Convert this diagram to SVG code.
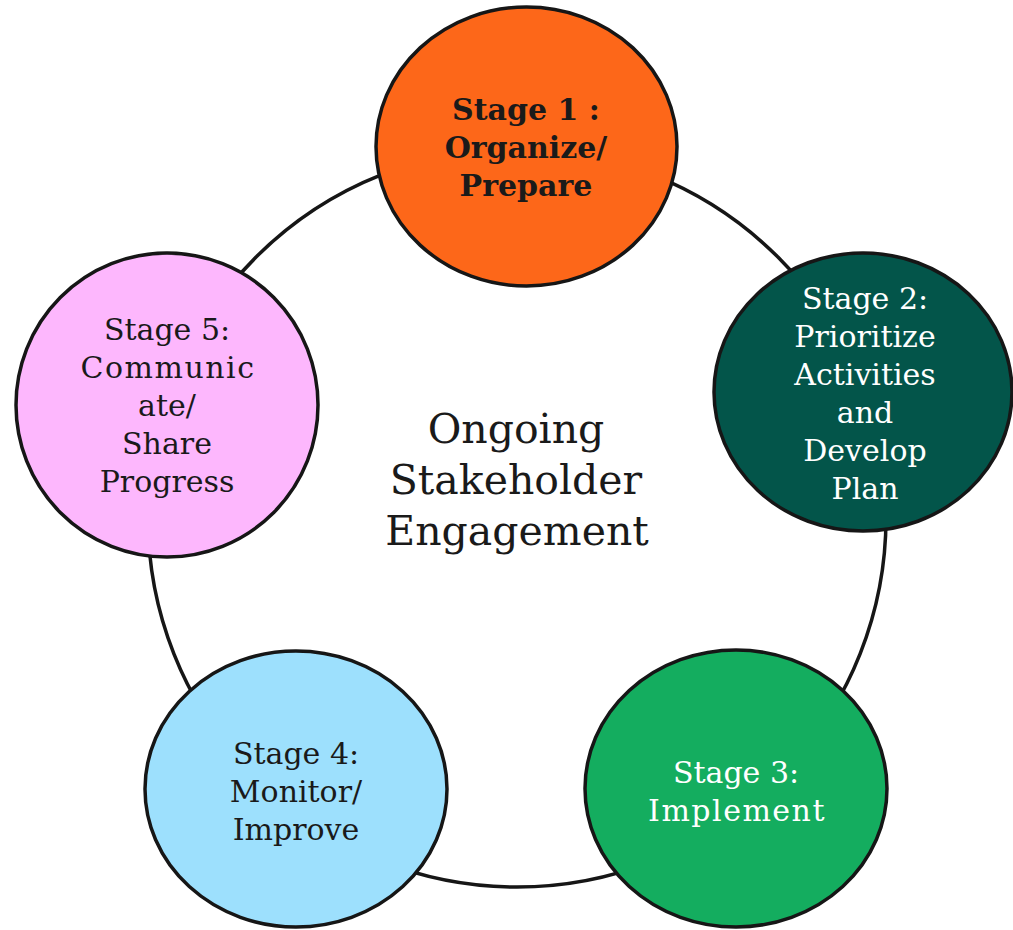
<svg xmlns="http://www.w3.org/2000/svg" width="1013" height="930" viewBox="0 0 1013 930">
  <style>
    .node { stroke: #161616; stroke-width: 3.5; }
    .lbl { font-family: "DejaVu Serif", "Liberation Serif", serif; font-size: 30px; text-anchor: middle; fill: #1a1a1a; }
    .white { fill: #ffffff; }
    .bold { font-weight: bold; }
    .wide { letter-spacing: 1.5px; }
    .center { font-family: "DejaVu Serif", "Liberation Serif", serif; font-size: 41px; text-anchor: middle; fill: #1a1a1a; }
  </style>
  <rect width="1013" height="930" fill="#ffffff"/>
  <g id="connectors">
    <circle cx="517" cy="518" r="369" fill="none" stroke="#161616" stroke-width="3.5"/>
  </g>
  <g id="center-label">
    <text class="center" x="516" y="443">Ongoing</text>
    <text class="center" x="516" y="494">Stakeholder</text>
    <text class="center" x="517" y="545">Engagement</text>
  </g>
  <g id="stage1">
    <ellipse class="node" cx="526.5" cy="146.5" rx="150.5" ry="139.5" fill="#FD6719"/>
    <text class="lbl bold" x="526" y="120">Stage 1 :</text>
    <text class="lbl bold" x="526" y="158">Organize/</text>
    <text class="lbl bold" x="526" y="196">Prepare</text>
  </g>
  <g id="stage2">
    <ellipse class="node" cx="863" cy="392" rx="149" ry="139" fill="#03554A"/>
    <text class="lbl white" x="865" y="309">Stage 2:</text>
    <text class="lbl white" x="865" y="347">Prioritize</text>
    <text class="lbl white" x="865" y="385">Activities</text>
    <text class="lbl white" x="865" y="423">and</text>
    <text class="lbl white" x="865" y="461">Develop</text>
    <text class="lbl white" x="865" y="499">Plan</text>
  </g>
  <g id="stage3">
    <ellipse class="node" cx="736" cy="788.5" rx="151" ry="138.5" fill="#14AD5F"/>
    <text class="lbl white" x="736" y="783">Stage 3:</text>
    <text class="lbl white wide" x="737" y="821">Implement</text>
  </g>
  <g id="stage4">
    <ellipse class="node" cx="296" cy="789" rx="151" ry="138" fill="#9DE0FD"/>
    <text class="lbl" x="296" y="764">Stage 4:</text>
    <text class="lbl" x="296" y="802">Monitor/</text>
    <text class="lbl" x="296" y="840">Improve</text>
  </g>
  <g id="stage5">
    <ellipse class="node" cx="167" cy="405" rx="151" ry="152" fill="#FDB7FD"/>
    <text class="lbl" x="167" y="340">Stage 5:</text>
    <text class="lbl wide" x="168" y="378">Communic</text>
    <text class="lbl" x="167" y="416">ate/</text>
    <text class="lbl" x="167" y="454">Share</text>
    <text class="lbl" x="167" y="492">Progress</text>
  </g>
</svg>
